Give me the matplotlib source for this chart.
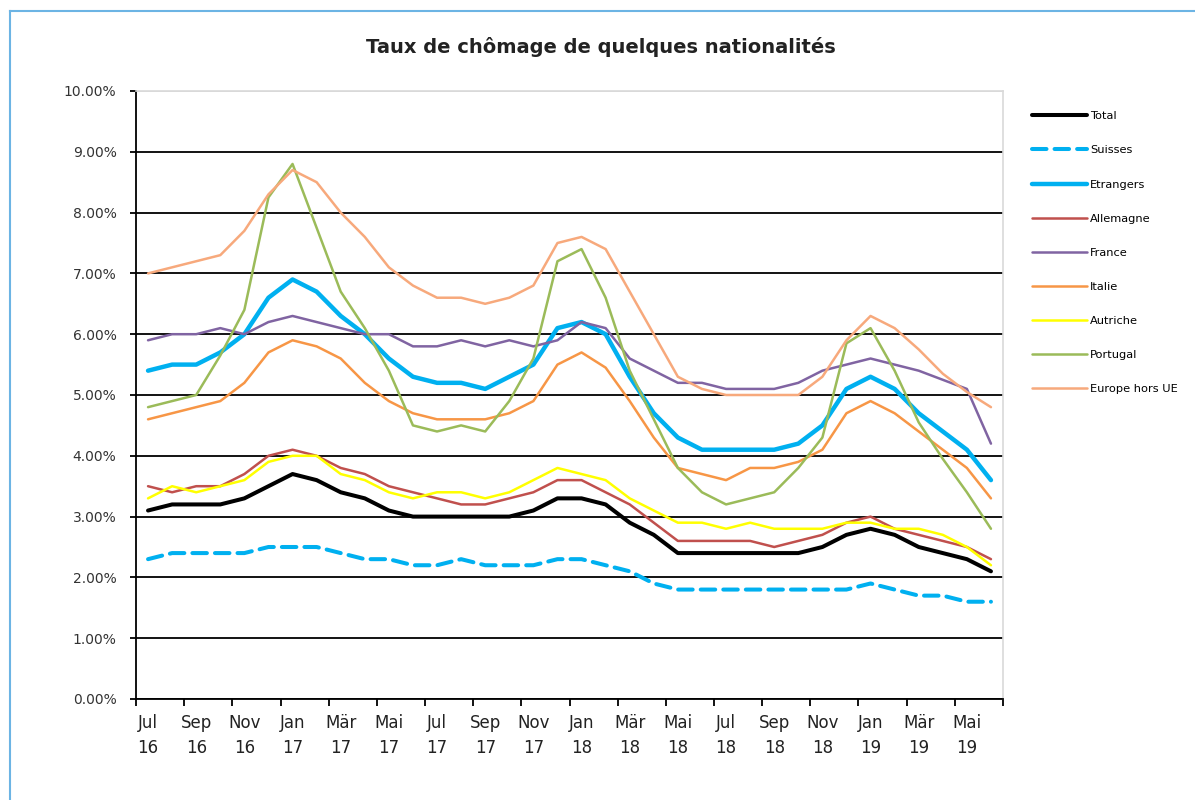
import matplotlib.pyplot as plt
from matplotlib.lines import Line2D
from matplotlib.ticker import FixedLocator, FuncFormatter

# monthly data, Jul 2016 .. Jun 2019 (values in %)
months = ['Jul', 'Aug', 'Sep', 'Okt', 'Nov', 'Dez', 'Jan', 'Feb', 'Mär', 'Apr', 'Mai', 'Jun']
years = ['16'] * 6 + ['17'] * 12 + ['18'] * 12 + ['19'] * 6

total = [3.1, 3.2, 3.2, 3.2, 3.3, 3.5, 3.7, 3.6, 3.4, 3.3, 3.1, 3.0,
         3.0, 3.0, 3.0, 3.0, 3.1, 3.3, 3.3, 3.2, 2.9, 2.7, 2.4, 2.4,
         2.4, 2.4, 2.4, 2.4, 2.5, 2.7, 2.8, 2.7, 2.5, 2.4, 2.3, 2.1]
suisses = [2.3, 2.4, 2.4, 2.4, 2.4, 2.5, 2.5, 2.5, 2.4, 2.3, 2.3, 2.2,
           2.2, 2.3, 2.2, 2.2, 2.2, 2.3, 2.3, 2.2, 2.1, 1.9, 1.8, 1.8,
           1.8, 1.8, 1.8, 1.8, 1.8, 1.8, 1.9, 1.8, 1.7, 1.7, 1.6, 1.6]
etrangers = [5.4, 5.5, 5.5, 5.7, 6.0, 6.6, 6.9, 6.7, 6.3, 6.0, 5.6, 5.3,
             5.2, 5.2, 5.1, 5.3, 5.5, 6.1, 6.2, 6.0, 5.3, 4.7, 4.3, 4.1,
             4.1, 4.1, 4.1, 4.2, 4.5, 5.1, 5.3, 5.1, 4.7, 4.4, 4.1, 3.6]
allemagne = [3.5, 3.4, 3.5, 3.5, 3.7, 4.0, 4.1, 4.0, 3.8, 3.7, 3.5, 3.4,
             3.3, 3.2, 3.2, 3.3, 3.4, 3.6, 3.6, 3.4, 3.2, 2.9, 2.6, 2.6,
             2.6, 2.6, 2.5, 2.6, 2.7, 2.9, 3.0, 2.8, 2.7, 2.6, 2.5, 2.3]
france = [5.9, 6.0, 6.0, 6.1, 6.0, 6.2, 6.3, 6.2, 6.1, 6.0, 6.0, 5.8,
          5.8, 5.9, 5.8, 5.9, 5.8, 5.9, 6.2, 6.1, 5.6, 5.4, 5.2, 5.2,
          5.1, 5.1, 5.1, 5.2, 5.4, 5.5, 5.6, 5.5, 5.4, 5.25, 5.1, 4.2]
italie = [4.6, 4.7, 4.8, 4.9, 5.2, 5.7, 5.9, 5.8, 5.6, 5.2, 4.9, 4.7,
          4.6, 4.6, 4.6, 4.7, 4.9, 5.5, 5.7, 5.45, 4.9, 4.3, 3.8, 3.7,
          3.6, 3.8, 3.8, 3.9, 4.1, 4.7, 4.9, 4.7, 4.4, 4.1, 3.8, 3.3]
autriche = [3.3, 3.5, 3.4, 3.5, 3.6, 3.9, 4.0, 4.0, 3.7, 3.6, 3.4, 3.3,
            3.4, 3.4, 3.3, 3.4, 3.6, 3.8, 3.7, 3.6, 3.3, 3.1, 2.9, 2.9,
            2.8, 2.9, 2.8, 2.8, 2.8, 2.9, 2.9, 2.8, 2.8, 2.7, 2.5, 2.2]
portugal = [4.8, 4.9, 5.0, 5.65, 6.4, 8.25, 8.8, 7.75, 6.7, 6.1, 5.4, 4.5,
            4.4, 4.5, 4.4, 4.9, 5.6, 7.2, 7.4, 6.6, 5.4, 4.6, 3.8, 3.4,
            3.2, 3.3, 3.4, 3.8, 4.3, 5.85, 6.1, 5.4, 4.55, 3.95, 3.4, 2.8]
europe_hors_ue = [7.0, 7.1, 7.2, 7.3, 7.7, 8.3, 8.7, 8.5, 8.0, 7.6, 7.1, 6.8,
                  6.6, 6.6, 6.5, 6.6, 6.8, 7.5, 7.6, 7.4, 6.7, 6.0, 5.3, 5.1,
                  5.0, 5.0, 5.0, 5.0, 5.3, 5.9, 6.3, 6.1, 5.75, 5.35, 5.05, 4.8]

series = [
    ('Total', total, '#000000', 2.9, '-'),
    ('Suisses', suisses, '#00B0F0', 2.9, (0, (3.6, 2.0))),
    ('Etrangers', etrangers, '#00B0F0', 3.2, '-'),
    ('Allemagne', allemagne, '#C0504D', 1.8, '-'),
    ('France', france, '#8064A2', 1.8, '-'),
    ('Italie', italie, '#F79646', 1.8, '-'),
    ('Autriche', autriche, '#FFFF00', 1.8, '-'),
    ('Portugal', portugal, '#9BBB59', 1.8, '-'),
    ('Europe hors UE', europe_hors_ue, '#F7A97C', 1.8, '-'),
]

n = len(total)
x = list(range(n))
labels = [f'{months[i % 12]}\n{years[i]}' for i in x]

fig = plt.figure(figsize=(11.95, 8.0), dpi=100)
ax = fig.add_axes([136 / 1195, 1 - 699 / 800, 867 / 1195, 608 / 800])

handles = []
for name, vals, col, lw, ls in series:
    h, = ax.plot(x, vals, color=col, lw=lw, ls=ls, label=name,
                 solid_joinstyle='round', dash_capstyle='round',
                 solid_capstyle='round')
    handles.append(h)

ax.set_xlim(-0.5, n - 0.5)
ax.set_ylim(0, 10)

# y axis
ax.set_yticks(range(0, 11))
ax.yaxis.set_major_formatter(FuncFormatter(lambda v, p: f'{v:.2f}%'))
ax.tick_params(axis='y', direction='out', length=4, width=1.3, pad=10,
               labelsize=10, labelcolor='#333333')
ax.grid(axis='y', color='black', lw=1.3)
ax.yaxis.get_gridlines()[-1].set_color('#D9D9D9')
ax.set_axisbelow(True)

# x axis: labels every second month, ticks between categories
ax.xaxis.set_major_locator(FixedLocator(x[::2]))
ax.set_xticklabels(labels[::2])
ax.xaxis.set_minor_locator(FixedLocator([i - 0.5 for i in range(0, n + 1, 2)]))
ax.tick_params(axis='x', which='major', length=0, pad=11, labelsize=12,
               labelcolor='#222222')
ax.tick_params(axis='x', which='minor', direction='out', length=5, width=1.3)
for t in ax.get_xticklabels():
    t.set_linespacing(1.5)

for side in ['left', 'bottom']:
    ax.spines[side].set_color('black')
    ax.spines[side].set_linewidth(1.3)
for side in ['top', 'right']:
    ax.spines[side].set_color('#D9D9D9')
    ax.spines[side].set_linewidth(1.2)

fig.text(0.503, 1 - 47 / 800, 'Taux de chômage de quelques nationalités',
         ha='center', va='center', fontsize=14, fontweight='bold',
         color='#222222')

fig.legend(handles=handles, loc='upper left',
           bbox_to_anchor=(1022 / 1195, 1 - 101 / 800), frameon=False,
           fontsize=8.2, handlelength=4.8, handletextpad=0.3,
           labelspacing=2.12)

# chart border (light blue, only top and left visible)
border = '#6CB4E4'
fig.add_artist(Line2D([9.5 / 1195, 1.0], [1 - 11 / 800] * 2, color=border,
                      lw=1.5, transform=fig.transFigure))
fig.add_artist(Line2D([9.5 / 1195] * 2, [0, 1 - 11 / 800], color=border,
                      lw=1.5, transform=fig.transFigure))

fig.savefig('out.png', dpi=100)
